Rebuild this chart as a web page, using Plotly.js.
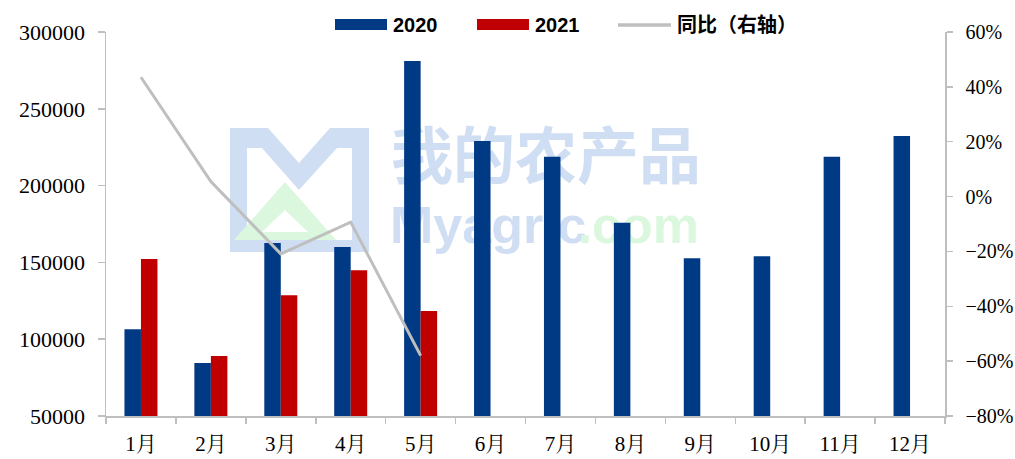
<!DOCTYPE html>
<html>
<head>
<meta charset="utf-8">
<script src="https://cdn.plot.ly/plotly-3.0.1.min.js"></script>
<style>html,body{margin:0;padding:0;background:#fff;}#chart{width:1015px;height:459px;}</style>
</head>
<body>
<div id="chart"></div>
<script>
// ---- data ----
const months = ['1月','2月','3月','4月','5月','6月','7月','8月','9月','10月','11月','12月'];
const values2020 = [106400, 84500, 162600, 160000, 281100, 229000, 218800, 175800, 152700, 154000, 218800, 232300];
const values2021 = [152200, 89100, 128600, 144900, 118400, null, null, null, null, null, null, null];
const yoy = [0.435, 0.055, -0.209, -0.093, -0.580, null, null, null, null, null, null, null];
const seriesNames = ['2020', '2021', '同比（右轴）'];
const leftTicks = [50000, 100000, 150000, 200000, 250000, 300000];
const rightTicks = [-0.8, -0.6, -0.4, -0.2, 0, 0.2, 0.4, 0.6];

// ---- layout geometry (pixels of the plot area) ----
const L = 106, R = 945, T = 32, B = 416;
const px = X => (X - L) / (R - L);
const py = Y => (B - Y) / (B - T);

const BLUE = '#003A84', RED = '#C00000', GREY = '#BFBFBF';
const SERIF = '"Liberation Serif", "Noto Serif CJK SC", "Times New Roman", serif';

const traces = [
  // watermark text on the hidden base subplot (drawn beneath the overlay subplots)
  {type: 'scatter', mode: 'text', xaxis: 'x', yaxis: 'y', x: [px(546)], y: [py(163)],
   text: ['我的农产品'], textposition: 'middle center',
   textfont: {family: '"Noto Sans CJK SC"', size: 62, color: '#D0DEF4', weight: 'bold'},
   hoverinfo: 'skip', showlegend: false},
  {type: 'scatter', mode: 'text', xaxis: 'x', yaxis: 'y', x: [px(390)], y: [py(230)],
   text: ['Myagric'], textposition: 'middle right',
   textfont: {family: '"Liberation Sans", Arial, sans-serif', size: 52, color: '#D0DEF4', weight: 'bold'},
   hoverinfo: 'skip', showlegend: false},
  {type: 'scatter', mode: 'text', xaxis: 'x', yaxis: 'y', x: [px(699)], y: [py(230)],
   text: ['.com'], textposition: 'middle left',
   textfont: {family: '"Liberation Sans", Arial, sans-serif', size: 52, color: '#DBF8DE', weight: 'bold'},
   hoverinfo: 'skip', showlegend: false},
  // data
  {type: 'bar', name: seriesNames[0], x: months, y: values2020, xaxis: 'x2', yaxis: 'y2',
   marker: {color: BLUE}, showlegend: false},
  {type: 'bar', name: seriesNames[1], x: months, y: values2021, xaxis: 'x2', yaxis: 'y2',
   marker: {color: RED}, showlegend: false},
  {type: 'scatter', mode: 'lines', name: seriesNames[2], x: months, y: yoy, xaxis: 'x2', yaxis: 'y3',
   line: {color: GREY, width: 3}, showlegend: false}
];

// watermark logo (decoration, behind everything)
function pathFrom(pts) {
  return pts.map((p, i) => (i ? 'L' : 'M') + px(p[0]).toFixed(4) + ',' + py(p[1]).toFixed(4)).join(' ') + ' Z';
}
const logoM = pathFrom([[230,128],[268,128],[299,163],[330,128],[369,128],[369,252],[352,252],[352,148],[337,148],[299,190],[262,148],[247,148],[247,252],[230,252]]);
const logoBottom = pathFrom([[230,240],[369,240],[369,252],[230,252]]);
const triOuter = pathFrom([[285,182],[336,240],[234,240]]);
const triInner = pathFrom([[285,210],[262,232],[308,232]]);

const shapes = [
  {type: 'path', xref: 'paper', yref: 'paper', path: logoM, fillcolor: '#D0DEF4', line: {width: 0}, layer: 'below'},
  {type: 'path', xref: 'paper', yref: 'paper', path: logoBottom, fillcolor: '#D0DEF4', line: {width: 0}, layer: 'below'},
  {type: 'path', xref: 'paper', yref: 'paper', path: triOuter, fillcolor: '#DBF8DE', line: {width: 0}, layer: 'below'},
  {type: 'path', xref: 'paper', yref: 'paper', path: triInner, fillcolor: '#FFFFFF', line: {width: 0}, layer: 'below'},
  // legend swatches
  {type: 'rect', xref: 'paper', yref: 'paper', x0: px(335), x1: px(387), y0: py(30), y1: py(19), fillcolor: BLUE, line: {width: 0}},
  {type: 'rect', xref: 'paper', yref: 'paper', x0: px(477), x1: px(529), y0: py(30), y1: py(19), fillcolor: RED, line: {width: 0}},
  {type: 'line', xref: 'paper', yref: 'paper', x0: px(618), x1: px(671), y0: py(25), y1: py(25), line: {color: GREY, width: 3.5}}
];

const legFont = {family: '"Liberation Sans", "Noto Sans CJK SC", sans-serif', size: 20, color: '#000', weight: 'bold'};
const annotations = [
  {xref: 'paper', yref: 'paper', x: px(391), y: py(25), text: '<b>' + seriesNames[0] + '</b>', showarrow: false, xanchor: 'left', yanchor: 'middle', font: legFont},
  {xref: 'paper', yref: 'paper', x: px(533), y: py(25), text: '<b>' + seriesNames[1] + '</b>', showarrow: false, xanchor: 'left', yanchor: 'middle', font: legFont},
  {xref: 'paper', yref: 'paper', x: px(675), y: py(25), text: '<b>' + seriesNames[2] + '</b>', showarrow: false, xanchor: 'left', yanchor: 'middle', font: legFont}
];

const layout = {
  width: 1015, height: 459,
  margin: {l: L, r: 1015 - R, t: T, b: 459 - B, pad: 0},
  paper_bgcolor: '#fff', plot_bgcolor: 'rgba(0,0,0,0)',
  barmode: 'group', bargap: 0.528, bargroupgap: 0,
  showlegend: false,
  xaxis: {range: [0, 1], visible: false, fixedrange: true},
  yaxis: {range: [0, 1], visible: false, fixedrange: true},
  xaxis2: {overlaying: 'x', anchor: 'y2', side: 'bottom', type: 'category',
    showline: true, linecolor: GREY, linewidth: 1.5, showgrid: false, zeroline: false,
    ticks: 'outside', tickson: 'boundaries', ticklen: 6, tickcolor: GREY, tickwidth: 1.5,
    tickfont: {family: SERIF, size: 21, color: '#000'}, ticklabelstandoff: 8},
  yaxis2: {overlaying: 'y', anchor: 'x2', side: 'left', range: [50000, 300000],
    tickvals: leftTicks, ticktext: leftTicks.map(String),
    showline: true, linecolor: GREY, linewidth: 1.5, showgrid: false, zeroline: false,
    ticks: 'outside', ticklen: 7, tickcolor: GREY, tickwidth: 1.5,
    tickfont: {family: SERIF, size: 22, color: '#000'}, ticklabelstandoff: 8},
  yaxis3: {overlaying: 'y', anchor: 'x2', side: 'right', range: [-0.8, 0.6],
    tickvals: rightTicks, tickformat: '.0%',
    showline: true, linecolor: GREY, linewidth: 1.5, showgrid: false, zeroline: false,
    ticks: 'outside', ticklen: 6, tickcolor: GREY, tickwidth: 1.5,
    tickfont: {family: SERIF, size: 20, color: '#000'}, ticklabelstandoff: 9},
  shapes: shapes,
  annotations: annotations
};

Plotly.newPlot('chart', traces, layout, {displayModeBar: false, staticPlot: true});
</script>
</body>
</html>
